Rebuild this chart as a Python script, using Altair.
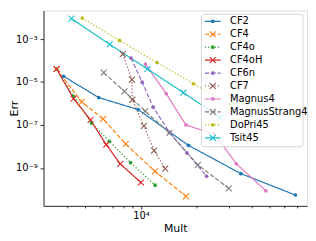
import altair as alt
import pandas as pd

methods = ["CF2", "CF4", "CF4o", "CF4oH", "CF6n", "CF7", "Magnus4",
           "MagnusStrang4", "DoPri45", "Tsit45"]
colors = ["#1f77b4", "#ff7f0e", "#2ca02c", "#d62728", "#9467bd", "#8c564b",
          "#e377c2", "#7f7f7f", "#bcbd22", "#17becf"]
dashes = [[1, 0], [4.5, 2], [1.3, 2], [1, 0], [4.5, 2], [1.3, 2], [1, 0],
          [4.5, 2], [1.3, 2], [1, 0]]
markers = ["dot", "x", "dot", "x", "dot", "x", "dot", "x", "dot", "x"]

mult_cf2 = [3810, 5910, 9680, 18100, 34800, 68700]
err_cf2 = [1.85e-5, 1.88e-6, 5.16e-7, 1.12e-8, 5.4e-10, 5.45e-11]
mult_cf4 = [3490, 4780, 6240, 8270, 11930, 17540]
err_cf4 = [4.05e-5, 1.18e-6, 1.89e-7, 1.30e-8, 6.9e-10, 4.74e-11]
mult_cf4o = [3490, 4315, 5390, 6745, 8800, 11930]
err_cf4o = [4.05e-5, 2.15e-6, 1.24e-7, 1.74e-8, 1.73e-9, 1.57e-10]
mult_cf4oh = [3490, 4315, 5335, 6490, 7725, 10000]
err_cf4oh = [4.05e-5, 1.69e-6, 1.70e-7, 1.20e-8, 1.53e-9, 2.09e-10]
mult_cf6n = [8840, 10160, 11640, 14290, 17750, 22700]
err_cf6n = [1.30e-4, 9.8e-6, 6.73e-7, 4.52e-8, 5.0e-9, 4.07e-10]
mult_cf7 = [7975, 8930, 8985, 10380, 11780, 13540]
err_cf7 = [1.98e-4, 1.30e-5, 1.52e-6, 9.0e-8, 6.4e-9, 9.2e-10]
mult_magnus4 = [10580, 13710, 17540, 25180, 32860, 47540]
err_magnus4 = [6.87e-5, 2.87e-6, 1.0e-7, 3.58e-8, 1.56e-9, 8.57e-11]
mult_ms4 = [6285, 8140, 10540, 14260, 20370, 29930]
err_ms4 = [2.74e-5, 3.66e-6, 4.41e-7, 4.28e-8, 1.37e-9, 1.11e-10]
mult_dopri = [4810, 7655, 12220, 19270, 30200]
err_dopri = [9.5e-3, 8.7e-4, 8.1e-5, 8.3e-6, 8.9e-7]
mult_tsit = [4203, 6770, 10850, 17000, 26900]
err_tsit = [8.95e-3, 5.7e-4, 4.05e-5, 3.18e-6, 2.2e-7]

x_ticks = [4000, 5000, 6000, 7000, 8000, 9000, 10000,
           20000, 30000, 40000, 50000, 60000, 70000]
y_ticks = [1e-3, 1e-5, 1e-7, 1e-9]

series = [
    (mult_cf2, err_cf2), (mult_cf4, err_cf4), (mult_cf4o, err_cf4o),
    (mult_cf4oh, err_cf4oh), (mult_cf6n, err_cf6n), (mult_cf7, err_cf7),
    (mult_magnus4, err_magnus4), (mult_ms4, err_ms4),
    (mult_dopri, err_dopri), (mult_tsit, err_tsit),
]
rows = []
for name, mk, (xs, ys) in zip(methods, markers, series):
    for i, (xv, yv) in enumerate(zip(xs, ys)):
        rows.append({"method": name, "marker": mk, "idx": i, "mult": xv, "err": yv})
df = pd.DataFrame(rows)
leg_df = pd.DataFrame({"method": methods, "marker": markers})

FONT = "DejaVu Sans"
XPATH = "M-1,-1L1,1M-1,1L1,-1"

color = alt.Color("method:N", scale=alt.Scale(domain=methods, range=colors), legend=None)
dash = alt.StrokeDash("method:N", scale=alt.Scale(domain=methods, range=dashes), legend=None)

xenc = alt.X(
    "mult:Q",
    scale=alt.Scale(type="log", domain=[10 ** 3.4722, 10 ** 4.9], nice=False),
    axis=alt.Axis(
        values=x_ticks, title="Mult", grid=False,
        labelExpr="datum.value == 10000 ? '10⁴' : ''",
        tickSize={"condition": {"test": "datum.value == 10000", "value": 3.5}, "value": 2},
        tickColor="black", domainColor="black", domainWidth=0.8, tickWidth=0.8,
        labelFontSize=10, labelPadding=1, labelFont=FONT, labelColor="black",
        titleFont=FONT, titleFontSize=11, titleFontWeight="normal", titlePadding=2,
        titleColor="black", labelFlush=False, labelOverlap=False,
    ),
)
yenc = alt.Y(
    "err:Q",
    scale=alt.Scale(type="log", domain=[10 ** -10.77, 10 ** -1.667], nice=False),
    axis=alt.Axis(
        values=y_ticks, title="Err", grid=False,
        labelExpr="(round(log(datum.value)/LN10) == -3 ? '10⁻³' : round(log(datum.value)/LN10) == -5 ? '10⁻⁵' : round(log(datum.value)/LN10) == -7 ? '10⁻⁷' : '10⁻⁹')",
        tickSize=3.5, tickColor="black", domainColor="black", domainWidth=0.8, tickWidth=0.8,
        labelFontSize=10, labelPadding=3, labelFont=FONT, labelColor="black",
        titleFont=FONT, titleFontSize=11, titleFontWeight="normal",
        titleX=-35.5, titleY=99, titleAngle=270, titleAlign="center", titleBaseline="top",
        titleColor="black", labelFlush=False, labelOverlap=False,
    ),
)

base = alt.Chart(df)
lines = base.mark_line(strokeWidth=1.2, clip=True).encode(
    x=xenc, y=yenc, color=color, strokeDash=dash, detail="method:N", order="idx:O")
dots = base.transform_filter(alt.datum.marker == "dot").mark_point(
    filled=True, size=14, shape="circle", opacity=1, clip=True).encode(
    x="mult:Q", y="err:Q", color=color)
crosses = base.transform_filter(alt.datum.marker == "x").mark_point(
    filled=False, size=36, shape=XPATH, strokeWidth=1.1, opacity=1, clip=True).encode(
    x="mult:Q", y="err:Q", color=color)
main = alt.layer(lines, dots, crosses)

legY = alt.Y("method:N", scale=alt.Scale(type="point", domain=methods, range=[11, 129], padding=0),
             axis=None)
leg_box = alt.Chart(pd.DataFrame({"a": [0]})).mark_rect(
    fill="white", fillOpacity=0.8, stroke="#cccccc", strokeWidth=0.8, cornerRadius=2).encode(
    x=alt.value(160), x2=alt.value(263), y=alt.value(4), y2=alt.value(138))
leg_base = alt.Chart(leg_df)
leg_lines = leg_base.mark_rule(strokeWidth=1.2).encode(
    x=alt.value(163.5), x2=alt.value(179.5), y=legY, color=color, strokeDash=dash)
leg_dots = leg_base.transform_filter(alt.datum.marker == "dot").mark_point(
    filled=True, size=14, shape="circle", opacity=1).encode(
    x=alt.value(171.5), y=legY, color=color)
leg_x = leg_base.transform_filter(alt.datum.marker == "x").mark_point(
    filled=False, size=36, shape=XPATH, strokeWidth=1.1, opacity=1).encode(
    x=alt.value(171.5), y=legY, color=color)
leg_text = leg_base.mark_text(align="left", baseline="middle", fontSize=10, font=FONT,
                              color="black").encode(
    x=alt.value(189), y=legY, text="method:N")
legend = alt.layer(leg_box, leg_lines, leg_dots, leg_x, leg_text)

chart = alt.layer(main, legend).resolve_scale(y="independent").properties(
    width=267, height=198,
    autosize=alt.AutoSizeParams(type="none"),
    padding={"left": 36, "top": 1, "right": 1, "bottom": 28},
).configure_view(stroke="black", strokeWidth=0.8).configure(font=FONT)

chart.save("out.html", embed_options={"renderer": "svg", "actions": False})
